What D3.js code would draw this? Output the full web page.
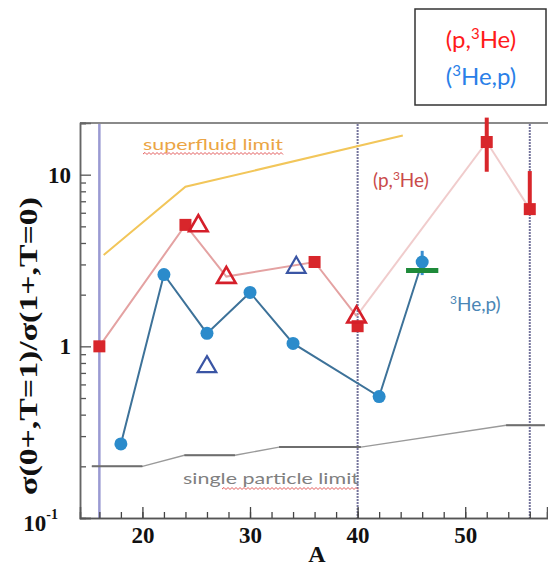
<!DOCTYPE html>
<html>
<head>
<meta charset="utf-8">
<script src="https://cdn.jsdelivr.net/npm/d3@7"></script>
<style>
  body { margin: 0; background: #fff; }
  svg { display: block; }
</style>
</head>
<body>
<svg id="chart"></svg>
<script>
// (p,3He) squares
let pSqA = [16, 24, 36, 40, 52, 56];
let pSqV = [1.0, 5.1, 3.1, 1.31, 15.5, 6.3];
// red connecting line
let pLineA = [16, 24, 27.8, 36, 39.9];
let pLineV = [1.0, 5.1, 2.55, 3.1, 1.5];
let pTailA = [39.9, 52, 56];
let pTailV = [1.5, 15.5, 6.3];
// open triangles
let pTriA = [25.2, 27.8, 39.9];
let pTriV = [5.1, 2.55, 1.5];
let hTriA = [26, 34.3];
let hTriV = [0.77, 2.92];
// (3He,p) dots
let hA = [18, 22, 26, 30, 34, 42, 46];
let hV = [0.27, 2.62, 1.19, 2.06, 1.04, 0.51, 3.1];
// error bars [A, low, high]
let pErr = [[52, 10.4, 21.5], [56, 6.0, 10.5]];
let hErr = [[46, 2.6, 3.6]];
// green mark
let gA = [44.5, 47.5];
let gV = 2.77;
// limits
let sfA = [16.4, 24, 44.2];
let sfV = [3.4, 8.5, 16.9];
let spA = [15.3, 20, 23.9, 28.6, 32.7, 40.3, 53.8, 57.4];
let spV = [0.2, 0.2, 0.232, 0.232, 0.259, 0.259, 0.347, 0.347];
let vLines = [16, 40, 56];
let xMajor = [20, 30, 40, 50];
let yMajor = [0.1, 1, 10];

let svg = d3.select('#chart').attr('width', 548).attr('height', 569);

let x = d3.scaleLinear().domain([14.2, 57.6]).range([80, 547]);
let y = d3.scaleLog().domain([0.1, 20]).range([518, 123]);

let serif = '"Liberation Serif", "DejaVu Serif", serif';
let sans = 'Lato, "Open Sans", sans-serif';

// frame top
svg.append('line').attr('x1', 80).attr('x2', 548).attr('y1', 123).attr('y2', 123)
    .attr('stroke', '#8a8a8a').attr('stroke-width', 2);

// vertical lines
svg.selectAll('.vl').data(vLines).enter().append('line')
    .attr('x1', d => x(d)).attr('x2', d => x(d))
    .attr('y1', 124).attr('y2', 518)
    .attr('stroke', (d, i) => i == 0 ? '#9a9ad2' : '#74749c')
    .attr('stroke-width', (d, i) => i == 0 ? 2.5 : 2)
    .attr('stroke-dasharray', (d, i) => i == 0 ? null : '2,1');

// minor ticks y
let yMinor = [];
[0.1, 1, 10].forEach(dec => {
    for (let k = 2; k <= 9; k++) if (dec * k <= 20) yMinor.push(dec * k);
});
yMinor.push(20);

let yAxisMinor = d3.axisLeft(y).tickValues(yMinor).tickSize(-6).tickFormat('');
let yAxis = d3.axisLeft(y).tickValues(yMajor).tickSize(-11).tickPadding(9)
    .tickFormat(d => d == 0.1 ? '10' : d3.format('d')(d));

let gy = svg.append('g').attr('transform', 'translate(80,0)');
gy.call(yAxisMinor);
let gy2 = svg.append('g').attr('transform', 'translate(80,0)').call(yAxis);
[gy, gy2].forEach(g => {
    g.select('.domain').attr('stroke', '#666').attr('stroke-width', 1.5);
    g.selectAll('.tick line').attr('stroke', '#555').attr('stroke-width', 1.3);
});
gy2.selectAll('.tick text')
    .attr('font-family', serif).attr('font-weight', 'bold').attr('font-size', 23).attr('fill', '#111');
gy2.selectAll('.tick text').filter(d => d == 0.1)
    .attr('x', -22).attr('dy', '0.55em')
    .append('tspan').attr('font-size', 14).attr('dy', '-0.9em').text('-1');

let gx = svg.append('g').attr('transform', 'translate(0,518)');
gx.call(d3.axisBottom(x).tickValues(d3.range(16, 58, 2)).tickSize(-6).tickFormat(''));
let gx2 = svg.append('g').attr('transform', 'translate(0,518)');
gx2.call(d3.axisBottom(x).tickValues(xMajor).tickSize(-11).tickPadding(8).tickFormat(d3.format('d')));
[gx, gx2].forEach(g => {
    g.select('.domain').attr('stroke', '#555').attr('stroke-width', 1.5);
    g.selectAll('.tick line').attr('stroke', '#444').attr('stroke-width', 1.3);
});
gx2.selectAll('.tick text')
    .attr('font-family', serif).attr('font-weight', 'bold').attr('font-size', 23).attr('fill', '#111')
    .attr('dy', '0.75em');

// axis titles
svg.append('text').attr('x', 317).attr('y', 562).attr('text-anchor', 'middle')
    .attr('font-family', serif).attr('font-weight', 'bold').attr('font-size', 24).attr('fill', '#111')
    .text('A');
svg.append('text').attr('transform', 'translate(37,346) rotate(-90)').attr('text-anchor', 'middle')
    .attr('font-family', serif).attr('font-weight', 'bold').attr('font-size', 25).attr('fill', '#111')
    .attr('textLength', 298).attr('lengthAdjust', 'spacingAndGlyphs')
    .text('σ(0+,T=1)/σ(1+,T=0)');

let line = d3.line().x(d => x(d[0])).y(d => y(d[1]));

// single particle limit
let spPts = spA.map((a, i) => [a, spV[i]]);
svg.append('path').attr('d', line(spPts)).attr('fill', 'none')
    .attr('stroke', '#9a9a9a').attr('stroke-width', 1.3);
svg.selectAll('.sph').data(d3.range(0, spPts.length, 2)).enter().append('line')
    .attr('x1', i => x(spPts[i][0])).attr('x2', i => x(spPts[i + 1][0]))
    .attr('y1', i => y(spPts[i][1])).attr('y2', i => y(spPts[i + 1][1]))
    .attr('stroke', '#6e6e6e').attr('stroke-width', 2);

// superfluid limit
svg.append('path').attr('d', line(sfA.map((a, i) => [a, sfV[i]]))).attr('fill', 'none')
    .attr('stroke', '#f2c65a').attr('stroke-width', 2);

// red line
svg.append('path').attr('d', line(pLineA.map((a, i) => [a, pLineV[i]]))).attr('fill', 'none')
    .attr('stroke', '#e4a2a2').attr('stroke-width', 2);
svg.append('path').attr('d', line(pTailA.map((a, i) => [a, pTailV[i]]))).attr('fill', 'none')
    .attr('stroke', '#e4a2a2').attr('stroke-width', 2).attr('stroke-opacity', 0.55);

// blue line
svg.append('path').attr('d', line(hA.map((a, i) => [a, hV[i]]))).attr('fill', 'none')
    .attr('stroke', '#3d7299').attr('stroke-width', 2);

// error bars
svg.selectAll('.perr').data(pErr).enter().append('line')
    .attr('x1', d => x(d[0])).attr('x2', d => x(d[0]))
    .attr('y1', d => y(d[1])).attr('y2', d => y(d[2]))
    .attr('stroke', '#d8262b').attr('stroke-width', 4);
svg.selectAll('.herr').data(hErr).enter().append('line')
    .attr('x1', d => x(d[0])).attr('x2', d => x(d[0]))
    .attr('y1', d => y(d[1])).attr('y2', d => y(d[2]))
    .attr('stroke', '#3b8fd0').attr('stroke-width', 3);

// blue dots
svg.selectAll('.hdot').data(hA).enter().append('circle')
    .attr('cx', d => x(d)).attr('cy', (d, i) => y(hV[i]))
    .attr('r', 6.5).attr('fill', '#2b8bcb');

// green mark
svg.append('line').attr('x1', x(gA[0])).attr('x2', x(gA[1])).attr('y1', y(gV)).attr('y2', y(gV))
    .attr('stroke', '#1e8a3a').attr('stroke-width', 5);

// red squares
svg.selectAll('.psq').data(pSqA).enter().append('rect')
    .attr('x', d => x(d) - 6).attr('y', (d, i) => y(pSqV[i]) - 6)
    .attr('width', 12).attr('height', 12).attr('fill', '#d8262b');

// triangles
let tri = d3.symbol().type(d3.symbolTriangle).size(150);
svg.selectAll('.ptri').data(pTriA).enter().append('path')
    .attr('d', tri)
    .attr('transform', (d, i) => `translate(${x(d)},${y(pTriV[i]) + 1})`)
    .attr('fill', 'none').attr('stroke', '#d51f2a').attr('stroke-width', 2.6);
svg.selectAll('.htri').data(hTriA).enter().append('path')
    .attr('d', tri)
    .attr('transform', (d, i) => `translate(${x(d)},${y(hTriV[i]) + 1})`)
    .attr('fill', 'none').attr('stroke', '#3a55a4').attr('stroke-width', 2.2);

// wavy underline helper
function wavy(x0, x1, yy) {
    let p = d3.path();
    p.moveTo(x0, yy);
    let up = true;
    for (let xx = x0 + 2; xx <= x1; xx += 2) {
        p.lineTo(xx, up ? yy - 1.5 : yy + 0.5);
        up = !up;
    }
    return p.toString();
}

// annotations
svg.append('text').attr('x', 143).attr('y', 150)
    .attr('font-family', sans).attr('font-size', 16).attr('fill', '#eba545')
    .attr('textLength', 140).attr('lengthAdjust', 'spacingAndGlyphs')
    .text('superfluid limit');
svg.append('path').attr('d', wavy(143, 283, 154)).attr('fill', 'none')
    .attr('stroke', '#e35a5a').attr('stroke-width', 1);

svg.append('text').attr('x', 183).attr('y', 484)
    .attr('font-family', sans).attr('font-size', 16).attr('fill', '#808080')
    .attr('textLength', 176).attr('lengthAdjust', 'spacingAndGlyphs')
    .text('single particle limit');
svg.append('path').attr('d', wavy(222, 358, 489)).attr('fill', 'none')
    .attr('stroke', '#e35a5a').attr('stroke-width', 1);

svg.append('text').attr('x', 373).attr('y', 187)
    .attr('font-family', sans).attr('font-size', 19).attr('fill', '#c94a4a')
    .html('(p,<tspan font-size="12" dy="-7">3</tspan><tspan dy="7">He)</tspan>');
svg.append('text').attr('x', 450).attr('y', 311)
    .attr('font-family', sans).attr('font-size', 19).attr('fill', '#4a86b5')
    .html('<tspan font-size="12" dy="-7">3</tspan><tspan dy="7">He,p)</tspan>');

// legend box
svg.append('rect').attr('x', 415).attr('y', 9).attr('width', 131).attr('height', 96)
    .attr('fill', '#fff').attr('stroke', '#333').attr('stroke-width', 1.5);
svg.append('text').attr('x', 481).attr('y', 48).attr('text-anchor', 'middle')
    .attr('font-family', sans).attr('font-size', 24).attr('fill', '#ff1a1a')
    .html('(p,<tspan font-size="15" dy="-9">3</tspan><tspan dy="9">He)</tspan>');
svg.append('text').attr('x', 481).attr('y', 85).attr('text-anchor', 'middle')
    .attr('font-family', sans).attr('font-size', 24).attr('fill', '#2a7fe8')
    .html('(<tspan font-size="15" dy="-9">3</tspan><tspan dy="9">He,p)</tspan>');
</script>
</body>
</html>
